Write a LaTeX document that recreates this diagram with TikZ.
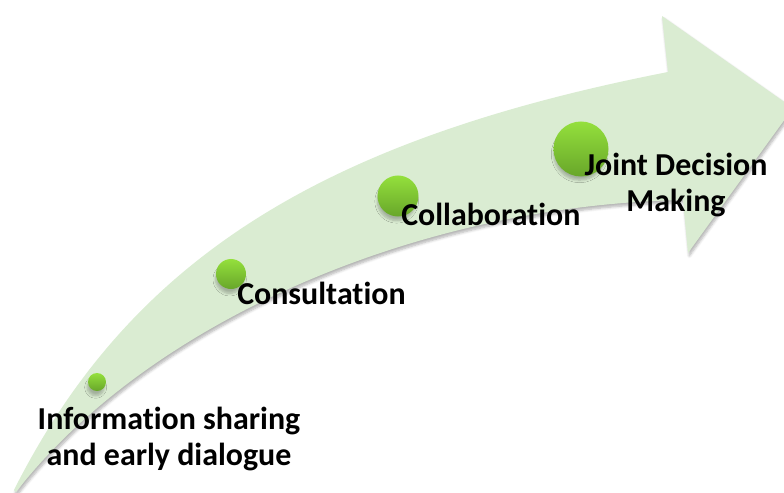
\documentclass[tikz,border=0pt]{standalone}
\usepackage{fontspec}
\setmainfont[Ligatures=NoCommon]{Carlito}
\usetikzlibrary{positioning,shadows.blur}

\definecolor{bandgreen}{RGB}{218,236,210}
\definecolor{balltop}{RGB}{148,224,60}
\definecolor{ballbot}{RGB}{104,166,42}

\begin{document}
\begin{tikzpicture}[x=0.025cm, y=-0.025cm,
	stage/.style={font=\fontsize{22.7}{26.3}\selectfont\bfseries, inner sep=0pt, align=center},
	ball/.style={circle, inner sep=0pt, top color=balltop, bottom color=ballbot,
		blur shadow={shadow xshift=-1pt, shadow yshift=-4pt, shadow scale=0.94, shadow opacity=25, shadow blur steps=6}}]
	\useasboundingbox (0,0) rectangle (784,493);
	\clip (0,0) rectangle (784,493);

	% curved arrow
	\fill[bandgreen, blur shadow={shadow xshift=1pt, shadow yshift=-2pt, shadow opacity=30, shadow blur steps=6}]
		(14,490) .. controls (130,260) and (320,140) .. (668,72)
		-- (662,16) -- (793,108) -- (688,253) -- (683,200)
		.. controls (420,205) and (150,320) .. (16,492) -- cycle;

	\node[ball, minimum size=0.45cm] (b1) at (97,382) {};
	\node[ball, minimum size=0.75cm] (b2) at (231,274) {};
	\node[ball, minimum size=1.025cm] (b3) at (398,196) {};
	\node[ball, minimum size=1.375cm] (b4) at (581,149) {};

	\node[stage] (info) at (169,439) {Information sharing\\and early dialogue};
	\node[stage, anchor=west] (consult) at (237,293) {Consultation};
	\node[stage, anchor=west] (collab) at (401,214) {Collaboration};
	\node[stage] (joint) at (676,185) {Joint Decision\\Making};
\end{tikzpicture}
\end{document}
